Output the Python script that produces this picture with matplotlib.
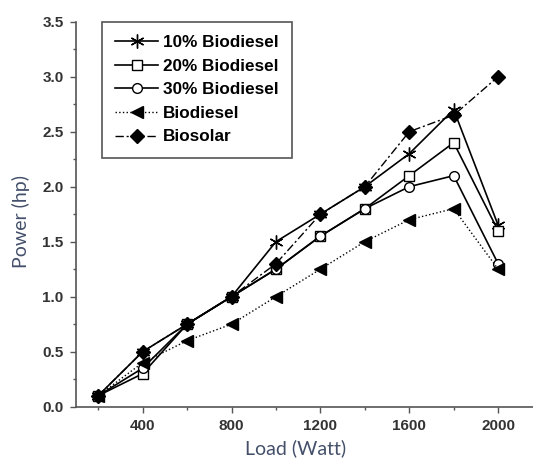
import matplotlib
matplotlib.use("Agg")
import matplotlib.pyplot as plt
from matplotlib.ticker import MultipleLocator, FormatStrFormatter

plt.rcParams['font.family'] = ['Liberation Sans', 'DejaVu Sans']

load = [200, 400, 600, 800, 1000, 1200, 1400, 1600, 1800, 2000]
bio10 = [0.1, 0.5, 0.75, 1.0, 1.5, 1.75, 2.0, 2.3, 2.7, 1.65]
bio20 = [0.1, 0.3, 0.75, 1.0, 1.25, 1.55, 1.8, 2.1, 2.4, 1.6]
bio30 = [0.1, 0.35, 0.75, 1.0, 1.25, 1.55, 1.8, 2.0, 2.1, 1.3]
biodiesel = [0.1, 0.4, 0.6, 0.75, 1.0, 1.25, 1.5, 1.7, 1.8, 1.25]
biosolar = [0.1, 0.5, 0.75, 1.0, 1.3, 1.75, 2.0, 2.5, 2.65, 3.0]
labels = ["10% Biodiesel", "20% Biodiesel", "30% Biodiesel", "Biodiesel", "Biosolar"]

fig = plt.figure(figsize=(5.33, 4.59), dpi=100)
ax = fig.add_axes([0.1426, 0.114, 0.8574, 0.8388])

lw = 1.2
ax.plot(load, bio10, color='black', lw=lw, ls='-', marker=(6, 2, 0), ms=10, mew=1.0, label=labels[0])
ax.plot(load, bio20, color='black', lw=lw, ls='-', marker='s', ms=7, mfc='white', mec='black', mew=1.0, label=labels[1])
ax.plot(load, bio30, color='black', lw=lw, ls='-', marker='o', ms=7, mfc='white', mec='black', mew=1.0, label=labels[2])
ax.plot(load, biodiesel, color='black', lw=1.0, ls=':', marker='<', ms=8, mfc='black', label=labels[3])
ax.plot(load, biosolar, color='black', lw=1.0, ls=(0, (6, 2, 1.5, 2)), marker='D', ms=7, mfc='black', label=labels[4])

ax.set_xlim(100, 2157)
ax.set_ylim(0, 3.5)
ax.xaxis.set_minor_locator(MultipleLocator(200))
ax.yaxis.set_major_locator(MultipleLocator(0.5))
ax.yaxis.set_minor_locator(MultipleLocator(0.25))
ax.set_xticks([400, 800, 1200, 1600, 2000])
ax.yaxis.set_major_formatter(FormatStrFormatter('%.1f'))

for s in ['top', 'right']:
    ax.spines[s].set_visible(False)
for s in ['left', 'bottom']:
    ax.spines[s].set_color('#555555')
    ax.spines[s].set_linewidth(1.2)

ax.tick_params(which='major', direction='out', length=4, width=1, colors='#555555',
               labelcolor='#333333', labelsize=11, pad=5)
ax.tick_params(which='minor', direction='out', length=2.5, width=1, colors='#555555')
for t in ax.get_xticklabels() + ax.get_yticklabels():
    t.set_fontweight('bold')

lab_color = '#44506a'
ax.set_xlabel('Load (Watt)', fontsize=14, color=lab_color, family=['Lato', 'DejaVu Sans'])
ax.set_ylabel('Power (hp)', fontsize=14, color=lab_color, family=['Lato', 'DejaVu Sans'])
ax.xaxis.set_label_coords(0.48, -0.085)
ax.yaxis.set_label_coords(-0.10, 0.482)

leg = ax.legend(loc='upper left', bbox_to_anchor=(0.056, 1.0), prop={'weight': 'bold', 'size': 12.3},
                handlelength=2.5, handletextpad=0.3, labelspacing=0.5, borderpad=0.8,
                borderaxespad=0, fancybox=False, frameon=True, edgecolor='#555555', framealpha=1)
leg.get_frame().set_linewidth(1.2)

fig.savefig('out.png', dpi=100)
